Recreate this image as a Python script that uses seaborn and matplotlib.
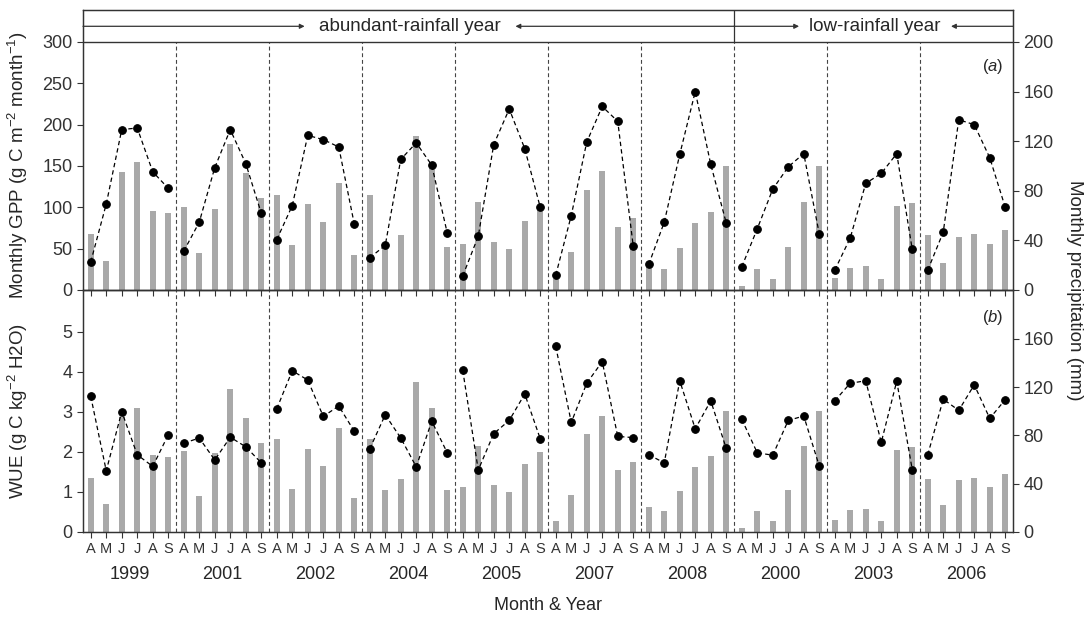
import numpy as np
import pandas as pd
import matplotlib.pyplot as plt
import seaborn as sns

# ---- data ----
years = ['1999', '2001', '2002', '2004', '2005', '2007', '2008', '2000', '2003', '2006']
months = ['A', 'M', 'J', 'J', 'A', 'S']

gpp = [34, 104, 194, 196, 143, 123,
       47, 82, 148, 194, 153, 93,
       61, 102, 187, 182, 173, 80,
       39, 54, 158, 178, 151, 69,
       17, 65, 176, 219, 171, 100,
       18, 90, 179, 222, 204, 53,
       31, 82, 164, 240, 152, 81,
       28, 74, 122, 149, 165, 68,
       24, 63, 129, 141, 165, 49,
       24, 70, 206, 200, 160, 100]

wue = [3.39, 1.53, 3.01, 1.93, 1.64, 2.43,
       2.22, 2.35, 1.80, 2.37, 2.13, 1.73,
       3.08, 4.03, 3.80, 2.89, 3.15, 2.52,
       2.08, 2.93, 2.35, 1.63, 2.77, 1.98,
       4.04, 1.55, 2.46, 2.79, 3.45, 2.33,
       4.64, 2.74, 3.72, 4.26, 2.39, 2.36,
       1.93, 1.73, 3.78, 2.58, 3.28, 2.09,
       2.82, 1.98, 1.92, 2.79, 2.90, 1.65,
       3.28, 3.72, 3.78, 2.24, 3.77, 1.56,
       1.93, 3.32, 3.04, 3.68, 2.84, 3.31]

precip = [45, 23, 95, 103, 64, 62,
          67, 30, 65, 118, 94, 74,
          77, 36, 69, 55, 86, 28,
          77, 35, 44, 124, 103, 35,
          37, 71, 39, 33, 56, 66,
          9, 31, 81, 96, 51, 58,
          21, 17, 34, 54, 63, 100,
          3, 17, 9, 35, 71, 100,
          10, 18, 19, 9, 68, 70,
          44, 22, 43, 45, 37, 48]

df = pd.DataFrame({
    'idx': np.arange(len(gpp)),
    'year': np.repeat(years, len(months)),
    'month': months * len(years),
    'gpp': gpp,
    'wue': wue,
    'precip': precip,
})

# ---- style ----
sns.set_style('ticks')
plt.rcParams['font.family'] = ['Liberation Sans', 'DejaVu Sans']
plt.rcParams['mathtext.fontset'] = 'custom'
plt.rcParams['mathtext.rm'] = 'Liberation Sans'
plt.rcParams['mathtext.it'] = 'Liberation Sans:italic'
plt.rcParams['axes.edgecolor'] = '#333333'
plt.rcParams['xtick.color'] = '#333333'
plt.rcParams['ytick.color'] = '#333333'
plt.rcParams['lines.dashed_pattern'] = (3.5, 2.5)

fig = plt.figure(figsize=(10.9, 6.17), dpi=100)
W, H = 1090, 617
left, right = 83 / W, 1013 / W
ax_a = fig.add_axes([left, (H - 290) / H, right - left, 280 / H])
ax_b = fig.add_axes([left, (H - 532) / H, right - left, 242 / H])
ax_a2 = ax_a.twinx()
ax_b2 = ax_b.twinx()

n = len(gpp)
seps = np.arange(5.5, n - 1, 6)
bar_col = '#a9a9a9'
tick_fs = 13

for ax, ax2, col, ytop, yticks, ptop in [
        (ax_a, ax_a2, 'gpp', 300 * 280 / 248, np.arange(0, 301, 50), 200 * 280 / 248),
        (ax_b, ax_b2, 'wue', 6.05, np.arange(0, 6, 1), 200.3)]:
    # precipitation bars on the twin (right) axis
    sns.barplot(data=df, x='idx', y='precip', ax=ax2, color=bar_col, saturation=1,
                width=0.4, native_scale=True, edgecolor='none')
    # dashed line with dots on the main (left) axis, broken per year
    sns.lineplot(data=df, x='idx', y=col, units='year', estimator=None, ax=ax,
                 color='black', linestyle='--', linewidth=0.9, marker='o',
                 markersize=5.5, markeredgecolor='black', legend=False)
    ax.set_zorder(ax2.get_zorder() + 1)
    ax.patch.set_visible(False)

    ax.set_xlim(-0.5, n - 0.5)
    ax2.set_xlim(-0.5, n - 0.5)
    ax.set_ylim(0, ytop)
    ax2.set_ylim(0, ptop)
    ax.set_yticks(yticks)
    ax2.set_yticks(np.arange(0, 201, 40) if col == 'gpp' else np.arange(0, 161, 40))
    ax.set_xlabel('')
    ax.set_ylabel('')
    ax2.set_xlabel('')
    ax2.set_ylabel('')
    ax.set_xticks(np.arange(n))
    ax.tick_params(axis='y', labelsize=tick_fs, length=4, width=0.8, direction='out')
    ax2.tick_params(axis='y', labelsize=tick_fs, length=4, width=0.8, direction='out')
    ax.tick_params(axis='x', length=4, width=0.8, direction='out')
    ax2.tick_params(axis='x', bottom=False, labelbottom=False)
    for sp in list(ax.spines.values()) + list(ax2.spines.values()):
        sp.set_linewidth(0.9)

# year separators
ax_a.vlines(seps, 0, 300, colors='#444444', linestyles='--', linewidth=0.8)
ax_b.vlines(seps, 0, 6.05, colors='#444444', linestyles='--', linewidth=0.8)

ax_a.tick_params(axis='x', labelbottom=False)
ax_b.set_xticklabels(df['month'], fontsize=10.5)
ax_b.tick_params(axis='x', pad=3)

# year labels below the months
tr = ax_b.get_xaxis_transform()
for i, y in enumerate(years):
    ax_b.text(i * 6 + 2.5, -0.175, y, transform=tr, ha='center', va='center', fontsize=13)
fig.text(548 / W, 1 - 605 / H, 'Month & Year', ha='center', va='center', fontsize=13)

# rainfall band on top of panel (a)
ax_a.axhline(300, color='#333333', linewidth=1)
ax_a.vlines(41.5, 300, 300 * 280 / 248, colors='#333333', linewidth=0.9)
yb = 319
arr = dict(arrowstyle='-|>', color='#333333', lw=0.9, mutation_scale=7, shrinkA=0, shrinkB=0)
ax_a.annotate('', xy=(13.8, yb), xytext=(-0.5, yb), arrowprops=arr)
ax_a.annotate('', xy=(27.4, yb), xytext=(41.5, yb), arrowprops=arr)
ax_a.text(20.6, yb, 'abundant-rainfall year', ha='center', va='center', fontsize=13.5)
ax_a.annotate('', xy=(45.7, yb), xytext=(41.5, yb), arrowprops=arr)
ax_a.annotate('', xy=(55.5, yb), xytext=(59.5, yb), arrowprops=arr)
ax_a.text(50.6, yb, 'low-rainfall year', ha='center', va='center', fontsize=13.5)

# panel letters
ax_a.text(0.99, 0.80, r'($\mathit{a}$)', transform=ax_a.transAxes, ha='right', va='center', fontsize=12)
ax_b.text(0.99, 0.885, r'($\mathit{b}$)', transform=ax_b.transAxes, ha='right', va='center', fontsize=12)

# axis titles
fig.text(18 / W, 1 - 165 / H, r'Monthly GPP (g C m$^{-2}$ month$^{-1}$)', rotation=90,
         ha='center', va='center', fontsize=13.5)
fig.text(18 / W, 1 - 411 / H, r'WUE (g C kg$^{-2}$ H2O)', rotation=90,
         ha='center', va='center', fontsize=13.5)
fig.text(1075 / W, 1 - 290 / H, 'Monthly precipitation (mm)', rotation=270,
         ha='center', va='center', fontsize=13.5)

fig.savefig('out.png', dpi=100)
